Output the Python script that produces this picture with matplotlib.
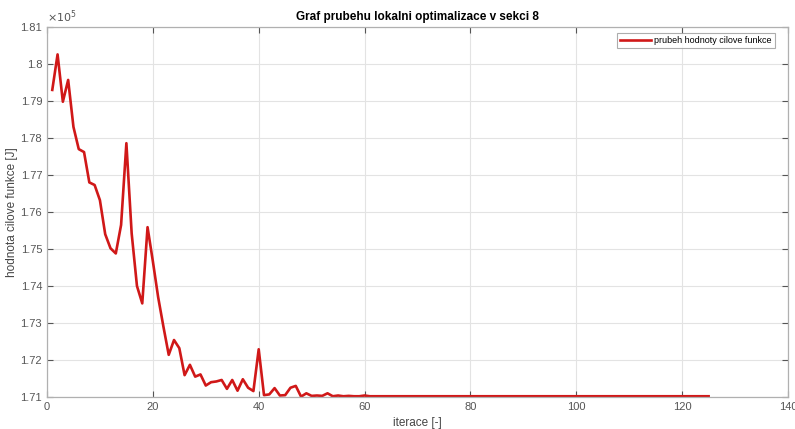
import matplotlib.pyplot as plt
from matplotlib.ticker import FuncFormatter

plt.rcParams['font.family'] = ['Liberation Sans', 'DejaVu Sans']

# hodnota cilove funkce po jednotlivych iteracich (x 1e5 J)
iterace = list(range(1, 126))
hodnoty_prvni = [
    1.7930, 1.8026, 1.7898, 1.7957, 1.7830, 1.7770, 1.7762, 1.7680, 1.7673, 1.7632,
    1.7540, 1.7502, 1.7488, 1.7565, 1.7786, 1.7542, 1.7400, 1.7353, 1.7559, 1.7467,
    1.7370, 1.7290, 1.7214, 1.7254, 1.7232, 1.7159, 1.7187, 1.7155, 1.7161, 1.7131,
    1.7140, 1.7142, 1.7146, 1.7122, 1.7146, 1.7117, 1.7148, 1.7125, 1.7116, 1.7229,
    1.7105, 1.7107, 1.7124, 1.7104, 1.7105, 1.7125, 1.7130, 1.7101, 1.7110, 1.7103,
    1.7104, 1.7103, 1.7110, 1.7102, 1.7104, 1.7102, 1.7103, 1.7102, 1.7102, 1.7104,
    1.7102,
]
hodnota_ustalena = 1.7102
hodnoty = hodnoty_prvni + [hodnota_ustalena] * (len(iterace) - len(hodnoty_prvni))
hodnoty = [h * 1e5 for h in hodnoty]

yticks = [171000, 172000, 173000, 174000, 175000, 176000, 177000, 178000, 179000, 180000, 181000]
xticks = [0, 20, 40, 60, 80, 100, 120, 140]

fig = plt.figure(figsize=(7.95, 4.29), dpi=100)
ax = fig.add_axes([0.0591, 0.0746, 0.9321, 0.8624])

ax.plot(iterace, hodnoty, color='#d01818', linewidth=1.9, clip_on=False,
        label='prubeh hodnoty cilove funkce')

ax.set_xlim(0, 140)
ax.set_ylim(171000, 181000)
ax.set_xticks(xticks)
ax.set_yticks(yticks)
ax.yaxis.set_major_formatter(FuncFormatter(lambda v, p: '%g' % (v / 1e5)))
ax.grid(True, color='#e3e3e3', linewidth=0.8)
ax.set_axisbelow(True)

for s in ax.spines.values():
    s.set_color('#b0b0b0')
    s.set_linewidth(0.9)
ax.tick_params(direction='in', length=4, colors='#555555', labelsize=8,
               top=True, right=True, labeltop=False, labelright=False)

ax.text(0.0, 1.006, r'$\times10^5$', transform=ax.transAxes, fontsize=8,
        color='#555555', ha='left', va='bottom')
ax.set_title('Graf prubehu lokalni optimalizace v sekci 8', fontsize=8.5,
             fontweight='bold', pad=5)
ax.set_xlabel('iterace [-]', fontsize=8.5, color='#444444', labelpad=4)
ax.set_ylabel('hodnota cilove funkce [J]', fontsize=8.5, color='#444444', labelpad=2)

leg = ax.legend(loc='upper right', bbox_to_anchor=(0.9825, 0.984), fontsize=6.5,
                frameon=True, fancybox=False, borderpad=0.35, handlelength=3.4,
                handletextpad=0.4, borderaxespad=0)
leg.get_frame().set_edgecolor('#999999')
leg.get_frame().set_linewidth(0.8)

fig.savefig('out.png', dpi=100)
